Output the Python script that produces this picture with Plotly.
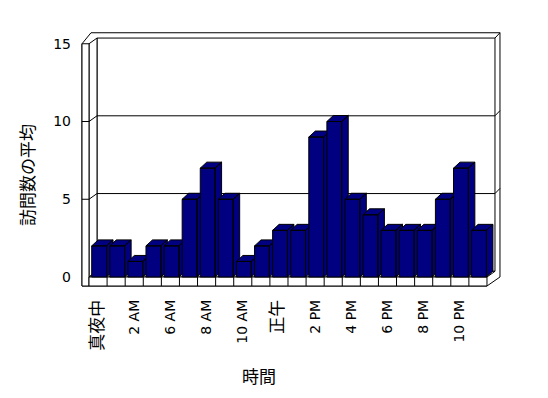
import plotly.graph_objects as go

# ---------------- data ----------------
categories = ["真夜中", "1 AM", "2 AM", "3 AM", "6 AM", "7 AM", "8 AM", "9 AM",
              "10 AM", "11 AM", "正午", "1 PM", "2 PM", "3 PM", "4 PM", "5 PM",
              "6 PM", "7 PM", "8 PM", "9 PM", "10 PM", "11 PM"]
values = [2, 2, 1, 2, 2, 5, 7, 5, 1, 2, 3, 3, 9, 10, 5, 4, 3, 3, 3, 5, 7, 3]
y_ticks = [0, 5, 10, 15]
x_title = "時間"
y_title = "訪問数の平均"

# ---------------- geometry (pixel scale of the reference) ----------------
W, H = 548, 398
PX_PER_CAT = 18.09
PX_PER_UNIT = 15.55
X0_PX, Y0_PX = 89, 277          # pixel of category 0 start / value 0 (front plane)
ML, MR, MT, MB = 80, 46, 28, 108

def xv(px):
    return (px - X0_PX) / PX_PER_CAT

def yv(py):
    return (Y0_PX - py) / PX_PER_UNIT

def xp(px):
    return (px - ML) / (W - ML - MR)

def yp(py):
    return (H - MB - py) / (H - MT - MB)

x_range = [xv(ML), xv(W - MR)]
y_range = [yv(H - MB), yv(MT)]

N = len(categories)
YMAX = y_ticks[-1]
tx = 7 / PX_PER_CAT        # left wall thickness
ty = 9 / PX_PER_UNIT       # floor thickness
dxw = 8 / PX_PER_CAT       # wall depth
dyw = 5.7 / PX_PER_UNIT
dxb = 6.5 / PX_PER_CAT     # bar depth
dyb = 6 / PX_PER_UNIT
outer_top = YMAX + 11 / PX_PER_UNIT
outer_right = N + 13 / PX_PER_CAT
outer_left_top = 2 / PX_PER_CAT
bar_l, bar_r = 0.15, 0.97

NAVY = "#000080"
fig = go.Figure()

def poly(xs, ys, fill="white", close=True):
    if close:
        xs = list(xs) + [xs[0]]
        ys = list(ys) + [ys[0]]
    fig.add_trace(go.Scatter(x=xs, y=ys, mode="lines", fill="toself" if fill else None,
                             fillcolor=fill, line=dict(color="black", width=1),
                             hoverinfo="skip", showlegend=False))

def lines(xs, ys):
    fig.add_trace(go.Scatter(x=xs, y=ys, mode="lines", line=dict(color="black", width=1),
                             hoverinfo="skip", showlegend=False, connectgaps=False))

# outer silhouette
poly([-tx, outer_left_top, outer_right, outer_right, N, -tx],
     [YMAX, outer_top, outer_top, 0, -ty, -ty])
# back wall inner face
poly([dxw, N + dxw, N + dxw, dxw], [dyw, dyw, YMAX + dyw, YMAX + dyw])
# left wall inner surface
poly([0, 0, dxw, dxw], [0, YMAX, YMAX + dyw, dyw])
# left wall front face
poly([-tx, 0, 0, -tx], [-ty, -ty, YMAX, YMAX])
# right side thickness edge
lines([N + dxw, outer_right], [YMAX + dyw, outer_top])
# floor top
poly([0, N, N + dxw, dxw], [0, 0, dyw, dyw])
# floor front face with dividers
poly([0, N, N, 0], [-ty, -ty, 0, 0])
dx_, dy_ = [], []
for i in range(1, N):
    dx_ += [i, i, None]
    dy_ += [-ty, 0, None]
lines(dx_, dy_)
# gridlines
gx, gy = [], []
for v in y_ticks[1:-1]:
    gx += [-tx, 0, dxw, N + dxw, outer_right, None]
    gy += [v, v, v + dyw, v + dyw, v + dyw + 0.33, None]
lines(gx, gy)

# bars (front, side, top), drawn left to right
for i, val in enumerate(values):
    l, r = i + bar_l, i + bar_r
    xs = [l, r, r, l, l, None,
          r, r + dxb, r + dxb, r, r, None,
          l, r, r + dxb, l + dxb, l]
    ys = [0, 0, val, val, 0, None,
          0, dyb, val + dyb, val, 0, None,
          val, val, val + dyb, val + dyb, val]
    fig.add_trace(go.Scatter(x=xs, y=ys, mode="lines", fill="toself", fillcolor=NAVY,
                             line=dict(color="black", width=1), hoverinfo="skip",
                             showlegend=False))

def fmt(c):
    if any(ord(ch) > 0x2E80 for ch in c):
        return '<span style="font-size:17px;color:black">' + c + '</span>'
    return c

tickvals = [i + 0.5 for i in range(0, N, 2)]
ticktext = [fmt(c) for c in categories[::2]]

fig.update_layout(
    width=W, height=H,
    margin=dict(l=ML, r=MR, t=MT, b=MB, pad=0),
    paper_bgcolor="white", plot_bgcolor="white",
    font=dict(family="DejaVu Sans, Noto Sans CJK JP", size=14, color="black"),
    xaxis=dict(range=x_range, showgrid=False, zeroline=False, showline=False,
               tickmode="array", tickvals=tickvals, ticktext=ticktext,
               tickangle=-90, ticks="", ticklabelstandoff=6, fixedrange=True),
    yaxis=dict(range=y_range, showgrid=False, zeroline=False, showline=False,
               tickmode="array", tickvals=y_ticks, ticktext=[str(t) for t in y_ticks],
               ticks="", ticklabelstandoff=8, fixedrange=True),
    annotations=[
        dict(text=x_title, xref="paper", yref="paper", x=xp(259), y=yp(375),
             xanchor="center", yanchor="middle", showarrow=False,
             font=dict(family="Noto Sans CJK JP", size=17, color="black")),
        dict(text=y_title, xref="paper", yref="paper", x=xp(26), y=yp(175),
             xanchor="center", yanchor="middle", textangle=-90, showarrow=False,
             font=dict(family="Noto Sans CJK JP", size=17, color="black")),
    ],
)

fig.write_html("out.html", config={"displayModeBar": False, "staticPlot": True},
               post_script="document.body.style.margin='0';")
